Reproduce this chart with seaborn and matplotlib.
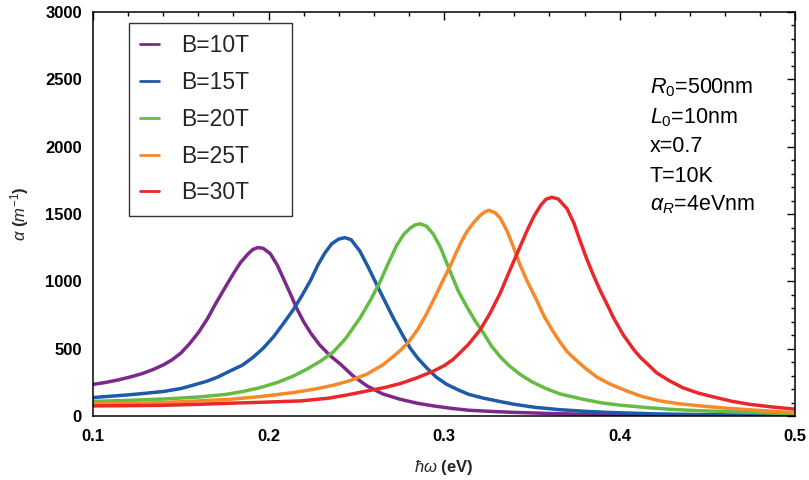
import numpy as np
import pandas as pd
import matplotlib
matplotlib.use("Agg")
import matplotlib.pyplot as plt
import seaborn as sns
from matplotlib.ticker import MultipleLocator

# ---- data ----
labels = ["B=10T", "B=15T", "B=20T", "B=25T", "B=30T"]

x_10 = [0.100, 0.107, 0.114, 0.121, 0.128, 0.134, 0.140, 0.145, 0.150, 0.155, 0.160, 0.165, 0.170,
        0.175, 0.180, 0.184, 0.188, 0.191, 0.194, 0.197, 0.201, 0.205, 0.208, 0.212, 0.216, 0.220,
        0.224, 0.229, 0.235, 0.241, 0.248, 0.256, 0.265, 0.275, 0.285, 0.294, 0.304, 0.314, 0.327,
        0.340, 0.360, 0.380, 0.400, 0.430, 0.460, 0.500]
y_10 = [236, 250, 268, 290, 316, 345, 380, 418, 468, 538, 620, 720, 838,
        950, 1059, 1140, 1200, 1237, 1252, 1245, 1206, 1120, 1034, 920, 801, 700,
        617, 530, 450, 385, 300, 225, 165, 125, 95, 76, 58, 44, 35,
        28, 20, 14, 10, 7, 5, 4]

x_15 = [0.100, 0.110, 0.120, 0.130, 0.140, 0.150, 0.157, 0.165, 0.171, 0.178, 0.185, 0.191, 0.197,
        0.203, 0.208, 0.214, 0.219, 0.224, 0.228, 0.232, 0.236, 0.240, 0.2435, 0.247, 0.252, 0.257,
        0.2617, 0.266, 0.2711, 0.276, 0.2806, 0.285, 0.290, 0.2955, 0.3015, 0.308, 0.314, 0.322,
        0.332, 0.340, 0.352, 0.366, 0.380, 0.395, 0.420, 0.450, 0.500]
y_15 = [138, 148, 158, 170, 183, 205, 230, 260, 290, 335, 378, 435, 505,
        592, 680, 789, 895, 1010, 1120, 1210, 1280, 1315, 1325, 1310, 1225, 1100,
        973, 860, 727, 610, 506, 430, 359, 290, 236, 195, 162, 135,
        108, 88, 65, 48, 36, 27, 17, 11, 7]

x_20 = [0.100, 0.120, 0.140, 0.160, 0.176, 0.186, 0.195, 0.205, 0.214, 0.222, 0.230, 0.237, 0.244,
        0.252, 0.258, 0.2635, 0.268, 0.273, 0.277, 0.2806, 0.2835, 0.2863, 0.290, 0.2939, 0.298,
        0.3034, 0.308, 0.313, 0.318, 0.3224, 0.327, 0.332, 0.337, 0.3433, 0.350, 0.358, 0.366,
        0.3775, 0.389, 0.400, 0.417, 0.430, 0.446, 0.475, 0.500]
y_20 = [110, 117, 127, 142, 162, 185, 211, 250, 297, 350, 412, 478, 578,
        727, 860, 997, 1130, 1268, 1350, 1395, 1420, 1428, 1410, 1350, 1250,
        1075, 930, 810, 700, 617, 520, 440, 375, 310, 255, 205, 165,
        130, 100, 82, 62, 50, 40, 28, 18]

x_25 = [0.100, 0.120, 0.138, 0.158, 0.178, 0.195, 0.214, 0.226, 0.237, 0.246, 0.256, 0.265, 0.270,
        0.275, 0.280, 0.285, 0.290, 0.295, 0.300, 0.304, 0.307, 0.310, 0.313, 0.317, 0.3205,
        0.323, 0.3255, 0.329, 0.332, 0.336, 0.3395, 0.343, 0.347, 0.352, 0.357, 0.362, 0.366,
        0.370, 0.3737, 0.380, 0.387, 0.395, 0.404, 0.413, 0.423, 0.434, 0.446, 0.460, 0.474,
        0.487, 0.500]
y_25 = [90, 95, 100, 112, 125, 145, 175, 200, 230, 262, 312, 380, 432,
        487, 555, 645, 760, 890, 1025, 1130, 1218, 1300, 1370, 1440, 1489,
        1515, 1528, 1510, 1470, 1370, 1255, 1130, 1010, 880, 740, 630, 550,
        480, 433, 360, 290, 235, 187, 145, 113, 92, 76, 60, 47,
        36, 25]

x_30 = [0.100, 0.120, 0.138, 0.158, 0.178, 0.198, 0.218, 0.234, 0.245, 0.256, 0.266, 0.275, 0.284,
        0.294, 0.300, 0.305, 0.309, 0.314, 0.3205, 0.326, 0.332, 0.337, 0.342, 0.347, 0.351,
        0.355, 0.358, 0.3614, 0.365, 0.370, 0.374, 0.3775, 0.381, 0.385, 0.389, 0.393, 0.3965,
        0.402, 0.408, 0.412, 0.416, 0.421, 0.428, 0.436, 0.445, 0.455, 0.464, 0.474, 0.487, 0.500]
y_30 = [76, 78, 80, 87, 96, 104, 113, 133, 158, 187, 212, 242, 282,
        335, 375, 420, 470, 535, 640, 760, 915, 1070, 1220, 1370, 1480,
        1565, 1610, 1625, 1612, 1540, 1430, 1300, 1175, 1047, 930, 825, 730,
        604, 494, 433, 385, 322, 265, 211, 170, 138, 110, 88, 68, 52]

colors = ["#7b2a8c", "#1f5aa8", "#66bb44", "#f7892a", "#e8282a"]

xs = [x_10, x_15, x_20, x_25, x_30]
ys = [y_10, y_15, y_20, y_25, y_30]
frames = [pd.DataFrame({"x": xv, "y": yv, "B": lab}) for xv, yv, lab in zip(xs, ys, labels)]
df = pd.concat(frames, ignore_index=True)

sns.set_theme(style="white")
plt.rcParams["font.family"] = ["Liberation Sans", "DejaVu Sans"]
plt.rcParams["mathtext.fontset"] = "custom"
plt.rcParams["mathtext.rm"] = "Liberation Sans"
plt.rcParams["mathtext.it"] = "Liberation Sans:italic"
plt.rcParams["mathtext.bf"] = "Liberation Sans:bold"

fig = plt.figure(figsize=(8.09, 4.80), dpi=100)
ax = fig.add_axes([0.115, 0.133, 0.868, 0.842])

sns.lineplot(data=df, x="x", y="y", hue="B", hue_order=labels, palette=colors,
             estimator=None, sort=True, linewidth=2.5, ax=ax, legend=True)
for ln in ax.get_lines():
    ln.set_solid_joinstyle("round")
    ln.set_solid_capstyle("round")

ax.set_xlim(0.1, 0.5)
ax.set_ylim(0, 3000)
ax.set_xticks([0.1, 0.2, 0.3, 0.4, 0.5])
ax.set_xticklabels(["0.1", "0.2", "0.3", "0.4", "0.5"])
ax.xaxis.set_minor_locator(MultipleLocator(0.02))
ax.yaxis.set_major_locator(MultipleLocator(500))
ax.yaxis.set_minor_locator(MultipleLocator(100))
ax.tick_params(which="both", direction="in", top=True, right=True, colors="black",
               labelsize=12, width=1.0)
ax.tick_params(which="major", length=6)
ax.tick_params(which="minor", length=3)
ax.tick_params(axis="x", which="major", pad=9)
ax.tick_params(axis="y", which="major", pad=8)
for lab in ax.get_xticklabels() + ax.get_yticklabels():
    lab.set_fontweight("bold")
for sp in ax.spines.values():
    sp.set_color("black")
    sp.set_linewidth(1.1)

ax.set_xlabel(r"$\hbar\omega$ (eV)", fontsize=12, fontweight="bold", labelpad=10)
ax.set_ylabel(r"$\alpha$ ($m^{-1}$)", fontsize=12, fontweight="bold", labelpad=10)

handles, labs = ax.get_legend_handles_labels()
leg = ax.legend(handles, labs, loc="upper left",
                bbox_to_anchor=(0.051, 0.5, 0.232, 0.473), mode="expand",
                borderaxespad=0, fontsize=16.5, frameon=True, fancybox=False,
                edgecolor="black", handlelength=0.8, handletextpad=1.0,
                labelspacing=0.6, borderpad=0.5)
leg.get_frame().set_linewidth(1.0)
for h in leg.get_lines():
    h.set_linewidth(2.0)

notes = [r"$R_0$=500nm", r"$L_0$=10nm", "x=0.7", "T=10K", r"$\alpha_R$=4eVnm"]
note_y = [0.7995, 0.725, 0.653, 0.579, 0.510]
for t, yy in zip(notes, note_y):
    ax.text(0.793, yy, t, transform=ax.transAxes, fontsize=15.5, va="baseline", ha="left",
            color="black")

fig.savefig("out.png", dpi=100)
